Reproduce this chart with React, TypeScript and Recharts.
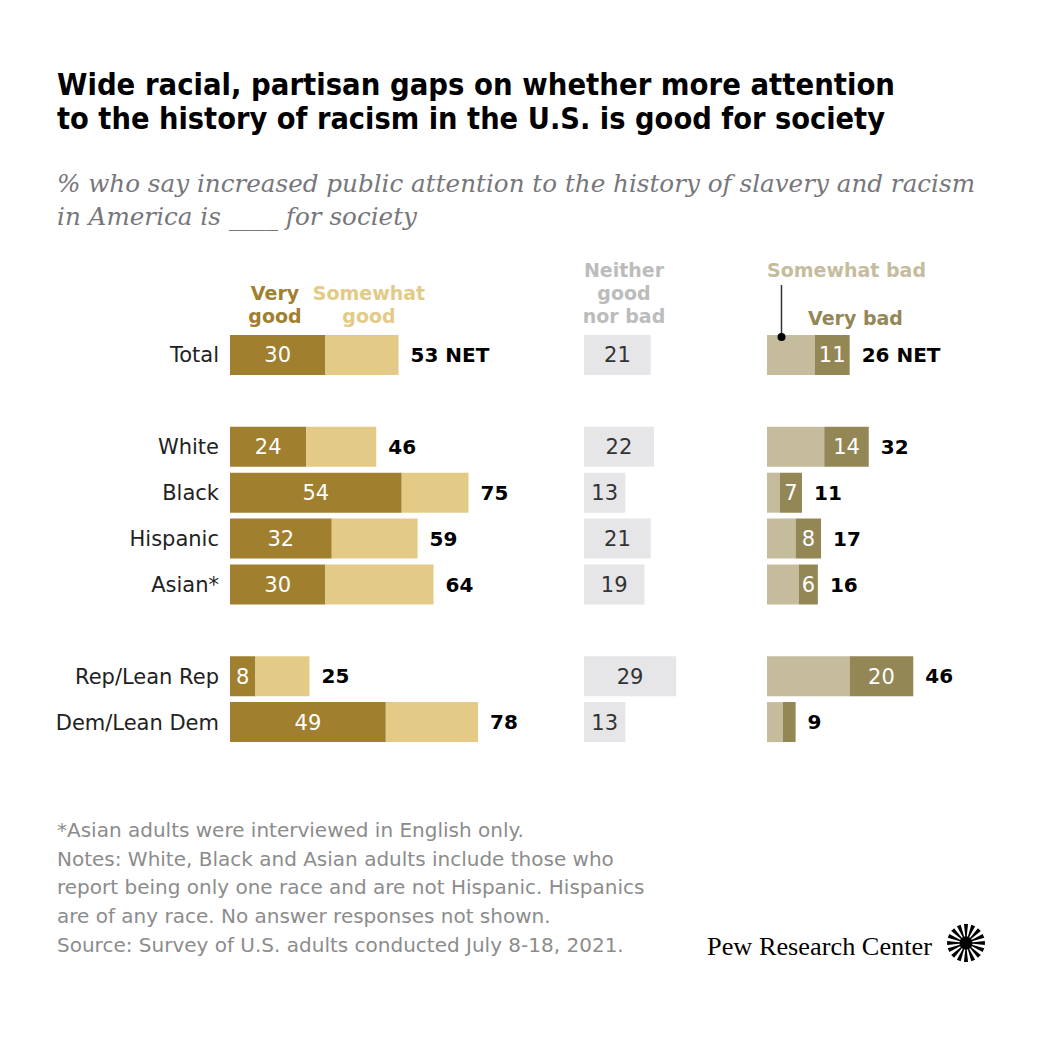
import { BarChart, Bar, XAxis, YAxis, LabelList } from 'recharts';

const categories = ['Total', 'gap1', 'White', 'Black', 'Hispanic', 'Asian*', 'gap2', 'Rep/Lean Rep', 'Dem/Lean Dem'];
const veryGood = [30, null, 24, 54, 32, 30, null, 8, 49];
const somewhatGood = [23, null, 22, 21, 27, 34, null, 17, 29];
const goodNet = [53, null, 46, 75, 59, 64, null, 25, 78];
const neither = [21, null, 22, 13, 21, 19, null, 29, 13];
const somewhatBad = [15, null, 18, 4, 9, 10, null, 26, 5];
const veryBad = [11, null, 14, 7, 8, 6, null, 20, 4];
const badNet = [26, null, 32, 11, 17, 16, null, 46, 9];

const titleLines = [
  'Wide racial, partisan gaps on whether more attention',
  'to the history of racism in the U.S. is good for society',
];
const subtitleLines = [
  '% who say increased public attention to the history of slavery and racism',
  'in America is ____ for society',
];
const footnotes = [
  '*Asian adults were interviewed in English only.',
  'Notes: White, Black and Asian adults include those who',
  'report being only one race and are not Hispanic. Hispanics',
  'are of any race. No answer responses not shown.',
  'Source: Survey of U.S. adults conducted July 8-18, 2021.',
];

const SANS = '"DejaVu Sans", Roboto, sans-serif';
const SERIF_IT = '"DejaVu Serif", "Liberation Serif", serif';
const LOGO_SERIF = '"Liberation Serif", serif';

const C = {
  veryGood: '#a07f2f',
  somewhatGood: '#e3cb87',
  neither: '#e6e6e8',
  neitherText: '#bcbcbc',
  somewhatBad: '#c5bc9d',
  veryBad: '#938756',
};

const netText = (v: number | null, i: number) => (v == null ? null : i === 0 ? `${v} NET` : `${v}`);

const data = categories.map((name, i) => ({
  name,
  veryGood: veryGood[i],
  somewhatGood: somewhatGood[i],
  goodNetLabel: netText(goodNet[i], i),
  neither: neither[i],
  somewhatBad: somewhatBad[i],
  veryBad: veryBad[i],
  veryBadLabel: veryBad[i] != null && veryBad[i]! >= 5 ? `${veryBad[i]}` : null,
  badNetLabel: netText(badNet[i], i),
}));

const CHART_TOP = 320;
const CHART_H = 440;
const MARGIN = { top: 12, bottom: 15, left: 0, right: 0 };
const PANEL_W = 318; // 0..100 %

const inBar = { fontSize: 21, fontFamily: SANS };
const netLbl = { fontSize: 20, fontFamily: SANS, fontWeight: 700, fill: '#000' };

function Icon({ cx, cy, r }: { cx: number; cy: number; r: number }) {
  const n = 16;
  const wedges = [];
  for (let k = 0; k < n; k++) {
    const a = (k / n) * Math.PI * 2;
    const w = (Math.PI / n) * 0.55;
    const p1 = [cx + Math.cos(a - w) * r, cy + Math.sin(a - w) * r];
    const p2 = [cx + Math.cos(a + w) * r, cy + Math.sin(a + w) * r];
    wedges.push(<polygon key={k} points={`${cx},${cy} ${p1.join(',')} ${p2.join(',')}`} fill="#000" />);
  }
  return (
    <g>
      {wedges}
      <circle cx={cx} cy={cy} r={r * 0.35} fill="#000" />
    </g>
  );
}

export default function App() {
  return (
    <div style={{ position: 'relative', width: 1040, height: 1040, overflow: 'hidden', background: '#fff' }}>
      <style>{'body{margin:0}'}</style>

      <svg width={1040} height={1040} style={{ position: 'absolute', left: 0, top: 0 }}>
        <g fontFamily={SANS} fontWeight={700} fontSize={30} fill="#000">
          <text x={57} y={95} textLength={838} lengthAdjust="spacingAndGlyphs">{titleLines[0]}</text>
          <text x={57} y={129} textLength={828} lengthAdjust="spacingAndGlyphs">{titleLines[1]}</text>
        </g>
        <g fontFamily={SERIF_IT} fontStyle="italic" fontSize={25} fill="#77777b">
          <text x={57} y={192} textLength={918} lengthAdjust="spacingAndGlyphs">{subtitleLines[0]}</text>
          <text x={57} y={225} textLength={360} lengthAdjust="spacingAndGlyphs">{subtitleLines[1]}</text>
        </g>

        <g fontFamily={SANS} fontWeight={700} fontSize={19} textAnchor="middle">
          <text x={275} y={300} fill={C.veryGood}>Very</text>
          <text x={275} y={323} fill={C.veryGood}>good</text>
          <text x={369} y={300} fill={C.somewhatGood}>Somewhat</text>
          <text x={369} y={323} fill={C.somewhatGood}>good</text>
          <text x={624} y={277} fill={C.neitherText}>Neither</text>
          <text x={624} y={300} fill={C.neitherText}>good</text>
          <text x={624} y={323} fill={C.neitherText}>nor bad</text>
          <text x={767} y={277} fill={C.somewhatBad} textAnchor="start">Somewhat bad</text>
          <text x={808} y={325} fill={C.veryBad} textAnchor="start">Very bad</text>
        </g>

        <g fontFamily={SANS} fontSize={20} fill="#8c8c8c">
          {footnotes.map((t, i) => (
            <text key={i} x={57} y={837 + i * 28.7}>{t}</text>
          ))}
        </g>
        <text x={707} y={955} fontFamily={LOGO_SERIF} fontSize={26} fill="#000" textLength={225} lengthAdjust="spacingAndGlyphs">
          Pew Research Center
        </text>
        <Icon cx={966} cy={943} r={19} />
      </svg>

      <div style={{ position: 'absolute', left: 0, top: CHART_TOP }}>
        <BarChart width={230 + PANEL_W + 12} height={CHART_H} data={data} layout="vertical" margin={{ ...MARGIN, right: 12 }} barSize={40} style={{ fontFamily: SANS }}>
          <XAxis type="number" domain={[0, 100]} hide />
          <YAxis
            type="category"
            dataKey="name"
            width={230}
            axisLine={false}
            tickLine={false}
            tickSize={0}
            tickMargin={11}
            tick={{ fill: '#222', fontSize: 21, fontFamily: SANS }}
            tickFormatter={(v: string) => (v.startsWith('gap') ? '' : v)}
            interval={0}
          />
          <Bar dataKey="veryGood" stackId="g" fill={C.veryGood} isAnimationActive={false}>
            <LabelList dataKey="veryGood" position="center" fill="#fff" {...inBar} />
          </Bar>
          <Bar dataKey="somewhatGood" stackId="g" fill={C.somewhatGood} isAnimationActive={false}>
            <LabelList dataKey="goodNetLabel" position="right" offset={12} {...netLbl} />
          </Bar>
        </BarChart>
      </div>

      <div style={{ position: 'absolute', left: 584, top: CHART_TOP }}>
        <BarChart width={PANEL_W} height={CHART_H} data={data} layout="vertical" margin={MARGIN} barSize={40} style={{ fontFamily: SANS }}>
          <XAxis type="number" domain={[0, 100]} hide />
          <YAxis type="category" dataKey="name" hide />
          <Bar dataKey="neither" fill={C.neither} isAnimationActive={false}>
            <LabelList dataKey="neither" position="center" fill="#333" {...inBar} />
          </Bar>
        </BarChart>
      </div>

      <div style={{ position: 'absolute', left: 767, top: CHART_TOP }}>
        <BarChart width={PANEL_W} height={CHART_H} data={data} layout="vertical" margin={MARGIN} barSize={40} style={{ fontFamily: SANS }}>
          <XAxis type="number" domain={[0, 100]} hide />
          <YAxis type="category" dataKey="name" hide />
          <Bar dataKey="somewhatBad" stackId="b" fill={C.somewhatBad} isAnimationActive={false} />
          <Bar dataKey="veryBad" stackId="b" fill={C.veryBad} isAnimationActive={false}>
            <LabelList dataKey="veryBadLabel" position="center" fill="#fff" {...inBar} />
            <LabelList dataKey="badNetLabel" position="right" offset={12} {...netLbl} />
          </Bar>
        </BarChart>
      </div>

      {/* leader line for "Somewhat bad", drawn above the bars */}
      <svg width={1040} height={400} style={{ position: 'absolute', left: 0, top: 0, pointerEvents: 'none' }}>
        <line x1={781.5} y1={285} x2={781.5} y2={337} stroke="#333" strokeWidth={1.5} />
        <circle cx={781.5} cy={337} r={4} fill="#000" />
      </svg>
    </div>
  );
}
